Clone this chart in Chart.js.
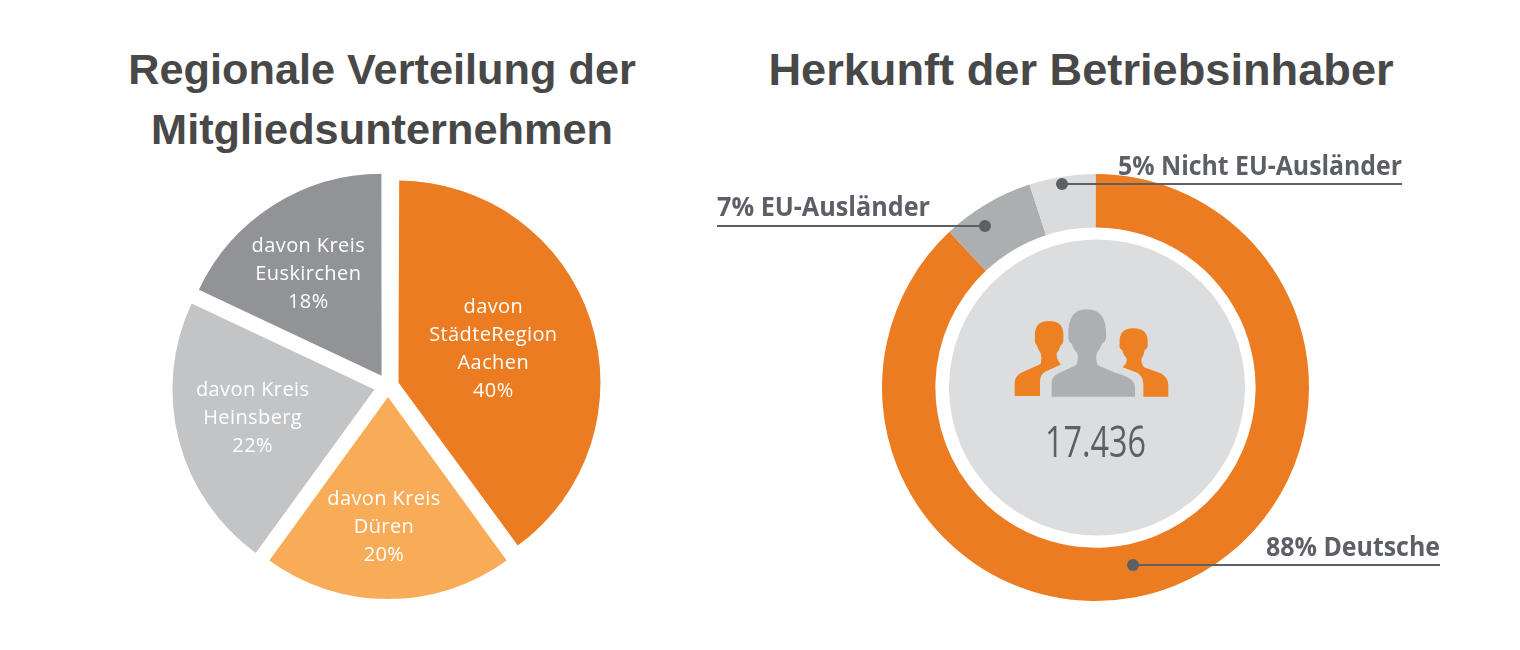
<!DOCTYPE html>
<html lang="de">
<head>
<meta charset="utf-8">
<title>Mitgliedsunternehmen</title>
<script src="https://cdn.jsdelivr.net/npm/chart.js@4"></script>
<style>
    html, body { margin: 0; background: #fff; width: 1520px; height: 650px; overflow: hidden; }
    canvas { position: absolute; }
    #pieChart { left: 158px; top: 156px; }
    #ringChart { left: 700px; top: 144px; }
    h2 {
        position: absolute; margin: 0; text-align: center; white-space: nowrap;
        font: bold 43.3px/60px "Liberation Sans", sans-serif; color: #484848;
    }
    #titleLeft { left: 82px; width: 600px; top: 39px; }
    #titleRight { left: 731px; width: 700px; top: 40px; font-size: 45.2px; }
</style>
</head>
<body>
<h2 id="titleLeft">Regionale Verteilung der<br>Mitgliedsunternehmen</h2>
<h2 id="titleRight">Herkunft der Betriebsinhaber</h2>
<canvas id="pieChart" width="460" height="460"></canvas>
<canvas id="ringChart" width="791" height="467"></canvas>

<script>
// Daten
const regionLabels = [
    ['davon', 'StädteRegion', 'Aachen'],
    ['davon Kreis', 'Düren'],
    ['davon Kreis', 'Heinsberg'],
    ['davon Kreis', 'Euskirchen'],
];
const regionValues = [40, 20, 22, 18];

const originLabels = ['Deutsche', 'EU-Ausländer', 'Nicht EU-Ausländer'];
const originValues = [88, 7, 5];
const totalOwners = '17.436';

// Farben
const regionColors = ['#ec7c22', '#f9ac58', '#c3c4c6', '#929397'];
const originColors = ['#ec7c22', '#acafb0', '#dadbdc'];
const textGray = '#5c5f66';

// Verschiebung der Beschriftung gegenüber der Segmentmitte
const labelShift = [[-9.5, -0.5], [-4, 17.5], [-10.5, -1.5], [-13, -8]];

const pieOffsets = [44, 44, 56, 48]; // Chart.js verschiebt nur um ein Viertel davon

const pieLabels = {
    id: 'pieLabels',
    // Chart.js vergrößert breite Segmente beim Verschieben, das wird hier zurückgenommen
    afterDatasetsUpdate(chart) {
        chart.getDatasetMeta(0).data.forEach((arc, i) => {
            const fix = 1 - Math.sin(Math.min(Math.PI, arc.circumference));
            arc.outerRadius -= fix * pieOffsets[i] / 4;
        });
    },
    afterDatasetsDraw(chart) {
        const { ctx } = chart;
        const arcs = chart.getDatasetMeta(0).data;
        ctx.save();
        ctx.fillStyle = '#fff';
        ctx.textAlign = 'center';
        ctx.font = '500 20px "Open Sans", sans-serif';
        ctx.letterSpacing = '0.4px';
        arcs.forEach((arc, i) => {
            const c = arc.getCenterPoint();
            const lines = [...regionLabels[i], regionValues[i] + '%'];
            const x = c.x + labelShift[i][0];
            const y = c.y + labelShift[i][1] - (lines.length - 1) * 14 + 7;
            lines.forEach((line, n) => ctx.fillText(line, x, y + n * 28));
        });
        ctx.restore();
    },
};

new Chart(document.getElementById('pieChart'), {
    type: 'pie',
    data: {
        labels: regionLabels.map(l => l.join(' ')),
        datasets: [{
            data: regionValues,
            backgroundColor: regionColors,
            borderWidth: 0,
            offset: pieOffsets,
        }],
    },
    options: {
        responsive: false,
        animation: false,
        plugins: { legend: { display: false }, tooltip: { enabled: false } },
    },
    plugins: [pieLabels],
});

// Beschriftungslinien, Angaben in Seitenkoordinaten
const callouts = [
    { i: 0, textX: 1266, textW: 174, textY: 556, dotX: 1133, lineEnd: 1440, y: 565 },
    { i: 1, textX: 717, textW: 213, textY: 216, dotX: 985, lineEnd: 717, y: 226 },
    { i: 2, textX: 1118, textW: 284, textY: 175, dotX: 1062, lineEnd: 1402, y: 184 },
];

// Personen-Icon, Koordinaten im 3-fach vergrößerten Ausschnitt
const personMiddle = 'M155 320 L155 276 Q157 258 178 248 L228 226 Q236 212 232 190 Q220 178 214 160 Q203 155 205 135 Q203 58 260 58 Q320 58 318 135 Q320 155 307 160 Q300 178 290 190 Q286 212 294 226 L345 248 Q403 262 405 290 L405 320 Z';
const personLeft = 'M44 318 L44 276 Q46 258 64 248 L122 222 Q127 205 122 190 Q114 178 110 165 Q102 160 105 142 Q100 93 148 93 Q194 93 190 142 Q192 160 182 166 Q178 180 170 190 Q168 205 182 224 L135 245 Q120 254 120 275 L120 318 Z';
const personRight = 'M430 320 L430 280 Q428 258 412 248 L368 232 Q382 220 380 205 Q370 195 366 180 Q356 175 359 160 Q356 115 400 115 Q446 115 443 160 Q445 175 434 180 Q432 195 425 205 Q422 220 432 232 L482 250 Q505 262 505 285 L505 320 Z';

const ringCenter = {
    id: 'ringCenter',
    afterDatasetsDraw(chart) {
        const { ctx } = chart;
        const arc = chart.getDatasetMeta(0).data[0];
        ctx.save();

        // graue Scheibe in der Mitte
        ctx.fillStyle = '#dcdddf';
        ctx.beginPath();
        ctx.arc(arc.x + 1.5, arc.y, 148, 0, Math.PI * 2);
        ctx.fill();

        // ab hier Seitenkoordinaten
        ctx.translate(-700, -144);

        ctx.save();
        ctx.translate(1000, 290);
        ctx.scale(1 / 3, 1 / 3);
        ctx.fillStyle = '#ee8024';
        ctx.fill(new Path2D(personLeft));
        ctx.fill(new Path2D(personRight));
        ctx.fillStyle = '#aeafb3';
        ctx.fill(new Path2D(personMiddle));
        ctx.restore();

        ctx.fillStyle = textGray;
        ctx.textAlign = 'center';
        ctx.font = '500 44px "Open Sans", sans-serif';
        ctx.fillText(totalOwners, 1095.5, 457, 101);

        ctx.textAlign = 'left';
        ctx.strokeStyle = textGray;
        ctx.lineWidth = 2;
        ctx.font = 'bold 26px "Open Sans", sans-serif';
        callouts.forEach(c => {
            ctx.beginPath();
            ctx.moveTo(c.dotX, c.y);
            ctx.lineTo(c.lineEnd, c.y);
            ctx.stroke();
            ctx.beginPath();
            ctx.arc(c.dotX, c.y, 6, 0, Math.PI * 2);
            ctx.fill();
            ctx.fillText(originValues[c.i] + '% ' + originLabels[c.i], c.textX, c.textY, c.textW);
        });
        ctx.restore();
    },
};

new Chart(document.getElementById('ringChart'), {
    type: 'doughnut',
    data: {
        labels: originLabels,
        datasets: [{
            data: originValues,
            backgroundColor: originColors,
            borderWidth: 0,
        }],
    },
    options: {
        responsive: false,
        animation: false,
        cutout: '75%',
        layout: { padding: { top: 30, bottom: 10 } },
        plugins: { legend: { display: false }, tooltip: { enabled: false } },
    },
    plugins: [ringCenter],
});
</script>
</body>
</html>
